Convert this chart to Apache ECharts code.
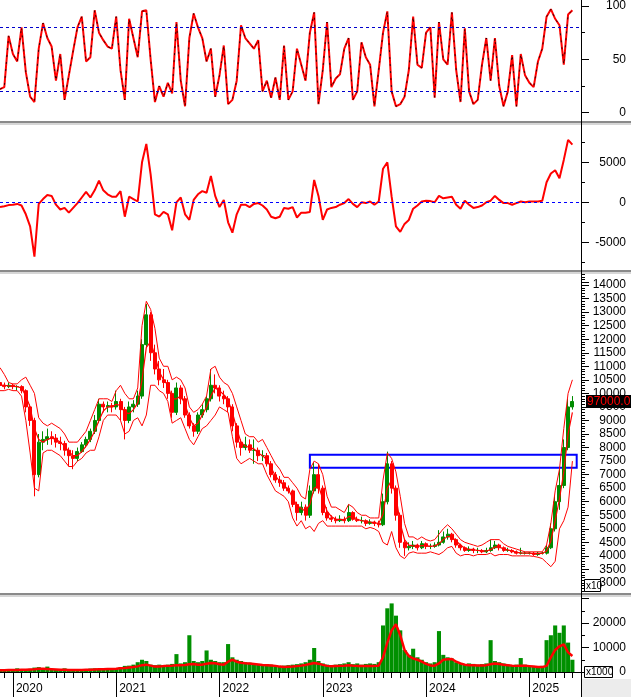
<!DOCTYPE html>
<html><head><meta charset="utf-8">
<script src="https://cdn.jsdelivr.net/npm/echarts@6/dist/echarts.min.js"></script>
<style>html,body{margin:0;padding:0;background:#fff}#c{width:631px;height:697px}</style>
</head><body><div id="c"></div>
<script>
// ---------- data (half-month steps, first point = 2019-11-16) ----------
const startYear = 2019, startMonth = 11, startHalf = 1, categoryCount = 136;

const stochK = [22,24,72,55,48,80,38,15,10,60,
84,70,62,30,55,12,35,58,80,90,
48,52,96,75,68,62,60,90,40,12,
88,70,52,95,96,50,10,25,15,28,
18,85,30,6,70,93,80,70,48,60,
15,35,63,8,12,30,82,70,65,60,
68,20,30,14,33,12,63,12,20,60,
45,30,75,94,8,40,85,24,32,36,
60,70,12,20,66,52,45,6,40,75,
95,20,6,8,15,40,90,45,42,75,
80,14,85,50,45,94,40,10,79,20,
8,12,45,70,30,70,25,6,20,54,
6,55,35,28,24,48,60,90,97,88,
82,45,92,96];

const macd = [-600,-500,-350,-300,-200,-400,-1500,-3000,-6800,-200,
400,900,800,-300,-900,-700,-1300,-700,-100,600,
1300,600,1500,2700,1500,1000,700,700,1400,-1800,
700,400,100,5000,7300,3500,-1500,-1800,-1200,-1500,
-3500,0,600,-1500,-2200,300,1000,1400,1200,3300,
800,-600,300,-2500,-3800,-1500,-300,-300,-600,-200,
-100,-400,-900,-1800,-2000,-1800,-700,-800,-600,-1900,
-1300,-1300,-1200,2800,800,-2200,-900,-700,-600,-300,
-100,400,-200,-600,0,-100,100,-300,100,4200,
5000,700,-3000,-3700,-2700,-2200,-800,-400,100,200,
150,0,800,500,600,700,-300,-800,200,-300,
-700,-600,-400,0,200,800,300,-100,-100,-300,
-100,100,0,100,100,100,200,2500,3600,4000,
3000,5300,7800,7200];

const priceOpen = [10400,10300,10250,10300,10250,10250,10100,9500,9000,7000,
8200,8300,8400,8350,8200,8150,7900,7700,7600,7850,
8100,8300,8600,9000,9600,9500,9550,9500,9700,9400,
9000,9500,9600,9900,11800,12900,11500,10900,10500,10400,
10000,9300,10200,9800,9200,8800,8600,9200,9400,9800,
10300,10200,9900,9800,9500,8800,8200,8000,8100,7900,
7900,7700,7700,7400,7000,6800,6700,6500,6400,5900,
5600,5800,5500,6400,7000,6500,5600,5400,5350,5300,
5350,5300,5600,5350,5300,5300,5200,5250,5200,5150,
6000,7400,6500,5500,4500,4300,4350,4400,4300,4450,
4350,4350,4400,4500,4700,4800,4600,4400,4300,4200,
4250,4200,4200,4150,4200,4300,4400,4300,4200,4200,
4150,4100,4100,4100,4100,4050,4100,4100,4300,5000,
6000,6600,8000,9500];

const priceHigh = [10500,10400,10400,10350,10300,10300,10150,9600,9100,8500,
8600,8700,8600,8500,8400,8250,8000,7900,8000,8200,
8400,8700,9200,9800,9700,9700,9650,10100,9800,9500,
9700,9750,10100,12000,13300,13000,11800,11200,10900,10500,
10100,10400,10300,9900,9300,8900,9300,9600,9900,10900,
10700,10300,10100,9900,9600,8900,8300,8400,8300,8300,
8000,7900,7800,7500,7100,6950,6800,6600,6450,6000,
6000,5900,6600,7450,7400,6600,5800,5500,5450,5500,
5450,5900,5650,5450,5450,5350,5350,5300,5300,6300,
7850,7500,6600,5600,4600,4500,4550,4450,4550,4500,
4450,4500,4950,4900,5000,4850,4650,4450,4350,4350,
4300,4300,4250,4300,4600,4550,4450,4350,4300,4250,
4200,4300,4150,4150,4150,4150,4150,4400,5200,6200,
7200,8300,9800,9900];

const priceLow = [10100,10150,10200,10150,10100,10000,9300,8800,6200,6900,
7900,8100,8100,8000,7900,7700,7300,7200,7500,7800,
8000,8200,8500,8900,9300,9300,9300,9400,9000,8300,
8900,9300,9500,9800,11700,11200,10700,10300,10200,9800,
9100,9200,9600,9100,8700,8400,8500,9100,9300,9700,
10000,9700,9600,9300,8600,8000,7700,7900,7800,7400,
7500,7500,7300,6900,6700,6550,6400,6300,5800,5300,
5500,5300,5400,6300,6300,5500,5300,5250,5200,5250,
5200,5250,5300,5250,5200,5100,5150,5100,5050,5100,
5900,6300,5300,4300,4000,4200,4250,4200,4250,4250,
4250,4300,4350,4450,4600,4500,4300,4200,4150,4150,
4100,4100,4100,4100,4150,4250,4200,4150,4150,4100,
4050,4050,4050,4050,4000,4000,4050,4050,4250,4900,
5700,6500,7900,9400];

const priceClose = [10300,10250,10300,10250,10250,10100,9500,9000,7000,8200,
8300,8400,8350,8200,8150,7900,7700,7600,7850,8100,
8300,8600,9000,9600,9500,9550,9500,9700,9400,9000,
9500,9600,9900,11800,12900,11500,10900,10500,10400,10000,
9300,10200,9800,9200,8800,8600,9200,9400,9800,10300,
10200,9900,9800,9500,8800,8200,8000,8100,7900,7900,
7700,7700,7400,7000,6800,6700,6500,6400,5900,5600,
5800,5500,6400,7000,6500,5600,5400,5350,5300,5350,
5300,5600,5350,5300,5300,5200,5250,5200,5150,6000,
7400,6500,5500,4500,4300,4350,4400,4300,4450,4350,
4350,4400,4500,4700,4800,4600,4400,4300,4200,4250,
4200,4200,4150,4200,4300,4400,4300,4200,4200,4150,
4100,4100,4100,4100,4050,4100,4100,4300,5000,6000,
6600,8000,9500,9700];

const bandUpper = [10950,10700,10400,10350,10350,10500,10600,10300,10000,9100,
8900,8800,8900,8800,8700,8500,8200,8200,8200,8400,
8600,9000,9400,9800,9800,9800,9700,10100,10300,10000,
9800,9800,10200,12500,13400,13100,12400,11300,11000,11000,
10500,10600,10500,10200,9500,9300,9400,9600,9900,10900,
11000,10600,10400,10300,10000,9500,9000,8500,8400,8400,
8200,8300,8000,7700,7400,7200,6900,6900,6700,6500,
6200,6100,7200,7500,7400,7000,6200,5800,5800,5700,
5600,5900,5800,5600,5500,5500,5400,5400,5400,6800,
7800,7600,7100,6200,5200,4700,4700,4600,4700,4600,
4550,4600,4800,5000,5150,5000,4800,4600,4500,4450,
4400,4350,4400,4500,4600,4600,4600,4450,4350,4300,
4250,4200,4150,4150,4150,4150,4150,4400,5200,6400,
7200,8700,10000,10500];

const bandMid = [10300,10300,10280,10270,10250,10200,9900,9500,8700,8300,
8200,8300,8350,8300,8200,8050,7850,7700,7700,7850,
8050,8300,8600,9000,9350,9500,9500,9600,9550,9300,
9250,9400,9650,10500,11700,11900,11400,10800,10500,10300,
9800,9800,9900,9600,9100,8800,8900,9200,9500,9900,
10200,10100,9950,9750,9300,8700,8200,8050,8000,7950,
7800,7700,7550,7250,6950,6750,6600,6450,6150,5850,
5750,5650,5900,6500,6600,6100,5650,5450,5350,5350,
5330,5450,5450,5350,5300,5270,5250,5220,5200,5550,
6500,6800,6200,5200,4600,4400,4370,4350,4380,4380,
4350,4370,4450,4600,4720,4700,4550,4400,4280,4240,
4220,4200,4180,4180,4230,4330,4330,4260,4220,4180,
4130,4110,4100,4100,4080,4080,4090,4180,4550,5300,
6100,7100,8500,9300];

const bandLower = [10100,10100,10150,10100,10100,9900,9000,7800,6500,6400,
7800,7900,7900,7800,7700,7500,7300,7300,7500,7600,
7800,7900,7900,8400,9000,9200,9200,9200,9000,8500,
8600,9000,9100,8800,9200,10300,10300,10100,10000,9700,
8900,9000,9100,8700,8300,8100,8400,8700,8800,9000,
9200,9500,9400,9300,8400,7600,7400,7500,7600,7500,
7400,7400,7000,6700,6400,6300,6200,6000,5400,5100,
5300,5000,5100,4900,5200,5300,5100,5100,5100,5100,
5100,5100,5100,5100,5100,5000,5050,5000,4900,4500,
4400,4900,4300,4000,3900,4100,4150,4100,4100,4100,
4150,4100,4050,4150,4300,4350,4100,4000,4050,4050,
4000,4050,4050,4050,4100,4000,4050,4050,4050,4000,
4000,4000,4000,4000,3980,3950,3900,3750,3600,3800,
5000,5300,5800,7500];

const volume = [800,900,1000,700,1500,1200,900,1300,1800,2000,
1400,2200,1100,1200,900,1500,800,700,1000,1200,
900,1400,1500,1300,1200,1400,1600,1500,2000,2500,
2600,3000,4000,5000,4500,3000,2800,3000,2800,3000,
3300,7300,3500,4000,15000,4500,4000,4500,8800,5000,
4500,4000,4000,11400,6000,5000,4500,4000,3800,3500,
3300,3000,3200,3000,2800,2500,2600,2800,3000,3200,
3500,4000,5000,9800,4500,3500,3000,2800,3000,3200,
3500,4000,3200,3500,3000,3300,3500,3300,4000,19000,
26000,28000,23000,17000,9000,7000,9500,6000,5000,4000,
3500,4000,16700,7000,6000,5500,4000,3500,3000,3500,
3300,3000,3200,3500,13000,4500,4000,3500,3000,2800,
3000,5700,3000,2500,2300,2200,2500,13000,15000,19000,
16000,19000,12000,5000];

const volumeMA = [700,700,800,800,850,900,900,1000,1100,1300,
1300,1200,1100,1000,900,900,850,800,800,850,
900,900,1000,1100,1100,1200,1200,1300,1500,1600,
1800,2000,2300,2800,3000,2600,2200,2200,2400,2500,
2600,2800,2800,2900,3200,3300,3000,3000,3400,3700,
3600,3200,3000,4200,5000,4200,3800,3600,3500,3300,
3100,2900,2800,2700,2500,2200,2000,2100,2200,2400,
2600,2900,3300,3700,3400,2900,2500,2300,2400,2500,
2600,2800,2600,2500,2500,2400,2500,2500,2600,6000,
12000,17000,19500,15000,9000,6500,5500,5000,4200,3300,
2700,2600,3500,5000,5200,5300,4200,3500,3000,2800,
2800,2700,2700,2800,3200,3500,3300,3000,2800,2600,
2500,2600,2600,2400,2200,2000,2000,2500,6000,9000,
10500,11300,8000,6500];

const stochLevels = [20, 80];
const stochTickLabels = [0, 50, 100];
const macdTickLabels = [-5000, 0, 5000];
const priceTickLabels = [3000,3500,4000,4500,5000,5500,6000,6500,7000,7500,8000,8500,9000,9500,10000,10500,11000,11500,12000,12500,13000,13500,14000];
const volumeTickLabels = [0, 10000, 20000];
const lastPriceValue = 9700;
const lastPriceText = '97000.0';
const zoneStartIndex = 72, zoneEndIndex = 134, zoneLow = 7250, zoneHigh = 7730;

// ---------- categories ----------
const cats = [];
{
  let y = startYear, m = startMonth, h = startHalf;
  for (let i = 0; i < categoryCount; i++) {
    cats.push(y + '-' + String(m).padStart(2, '0') + '-' + (h ? '16' : '01'));
    if (h) { h = 0; m++; if (m > 12) { m = 1; y++; } } else { h = 1; }
  }
}
const candleData = priceOpen.map((o, i) => [o, priceClose[i], priceLow[i], priceHigh[i]]);

const FONT = '"Liberation Sans", Arial, sans-serif';
const chart = echarts.init(document.getElementById('c'));

function yAx(gridIndex, min, max, interval, split, labels) {
  return {
    type: 'value', gridIndex, position: 'right', min, max, interval,
    splitLine: { show: false },
    axisLine: { show: true, lineStyle: { color: '#000', width: 1 } },
    axisTick: { show: true, length: 8, lineStyle: { color: '#000' } },
    minorTick: { show: true, splitNumber: split, length: 4, lineStyle: { color: '#000' } },
    axisLabel: { color: '#000', fontSize: 12, fontFamily: FONT, align: 'right', margin: 45,
      showMinLabel: true, showMaxLabel: true,
      formatter: v => labels.indexOf(v) >= 0 ? String(v) : '' }
  };
}
function hiddenX(gridIndex) {
  return { type: 'category', gridIndex, data: cats, boundaryGap: false, show: false };
}
const W = 581;
const option = {
  animation: false,
  textStyle: { fontFamily: FONT },
  grid: [
    { left: 0, width: W, top: 3.3, height: 109.4 },
    { left: 0, width: W, top: 122.3, height: 160 },
    { left: 0, width: W, top: 271.5, height: 325 },
    { left: 0, width: W, top: 598.5, height: 98 },
    { left: 0, width: W, top: 677, height: 1 }
  ],
  xAxis: [
    hiddenX(0), hiddenX(1), hiddenX(2),
    { type: 'category', gridIndex: 3, data: cats, boundaryGap: false, position: 'bottom', offset: -18.5,
      axisLine: { show: true, lineStyle: { color: '#000' } },
      axisTick: { show: true, length: 6, interval: (i, v) => v.endsWith('-01'), lineStyle: { color: '#000' } },
      axisLabel: { show: false }, splitLine: { show: false } },
    { type: 'category', gridIndex: 4, data: cats, boundaryGap: false, position: 'bottom',
      axisLine: { show: false },
      axisTick: { show: true, length: 19, interval: (i, v) => v.endsWith('-01-01'), lineStyle: { color: '#000' } },
      axisLabel: { show: true, interval: (i, v) => v.endsWith('-01-01'), formatter: v => v.slice(0, 4),
        align: 'left', margin: 5, padding: [0, 0, 0, 3], color: '#000', fontSize: 12, fontFamily: FONT },
      splitLine: { show: false } }
  ],
  yAxis: [
    yAx(0, 0, 100, 50, 2, stochTickLabels),
    yAx(1, -10000, 10000, 5000, 2, macdTickLabels),
    yAx(2, 2500, 14500, 500, 5, priceTickLabels),
    yAx(3, -10000, 30000, 10000, 2, volumeTickLabels),
    { type: 'value', gridIndex: 4, show: false }
  ],
  series: [
    { type: 'line', xAxisIndex: 0, yAxisIndex: 0, data: stochK, showSymbol: false,
      lineStyle: { color: '#ff0000', width: 2 },
      markLine: { silent: true, symbol: ['none', 'none'], label: { show: false },
        lineStyle: { color: '#0000cc', type: [3, 3], width: 1 },
        data: stochLevels.map(v => ({ yAxis: v })) } },
    { type: 'line', xAxisIndex: 0, yAxisIndex: 0, data: stochK, showSymbol: false, z: 3,
      lineStyle: { color: '#000', width: 0.8, type: [2, 5] } },
    { type: 'line', xAxisIndex: 1, yAxisIndex: 1, data: macd, showSymbol: false,
      lineStyle: { color: '#ff0000', width: 2 },
      markLine: { silent: true, symbol: ['none', 'none'], label: { show: false },
        lineStyle: { color: '#0000ff', type: [3, 3], width: 1 }, data: [{ yAxis: 0 }] } },
    { type: 'line', xAxisIndex: 2, yAxisIndex: 2, data: bandUpper, showSymbol: false,
      lineStyle: { color: '#ff0000', width: 1 } },
    { type: 'line', xAxisIndex: 2, yAxisIndex: 2, data: bandLower, showSymbol: false,
      lineStyle: { color: '#ff0000', width: 1 } },
    { type: 'candlestick', xAxisIndex: 2, yAxisIndex: 2, data: candleData, barWidth: 3.5,
      itemStyle: { color: '#008c00', color0: '#ff0000', borderColor: '#008c00', borderColor0: '#ff0000', borderWidth: 1 },
      markLine: { silent: true, symbol: ['none', 'none'],
        lineStyle: { color: 'transparent', width: 0 },
        label: { show: true, position: 'end', distance: 5, formatter: lastPriceText, color: '#ff0000',
          backgroundColor: '#000', padding: [1, 1, 0, 1], fontSize: 12, fontFamily: FONT },
        data: [{ yAxis: lastPriceValue }] },
      markArea: { silent: true,
        itemStyle: { color: 'rgba(0,0,0,0)', borderColor: '#0000ff', borderWidth: 2 },
        data: [[{ xAxis: cats[zoneStartIndex], yAxis: zoneHigh }, { xAxis: cats[zoneEndIndex], yAxis: zoneLow }]] } },
    { type: 'line', xAxisIndex: 2, yAxisIndex: 2, data: bandMid, showSymbol: false,
      lineStyle: { color: '#ff0000', width: 1.2 } },
    { type: 'bar', xAxisIndex: 3, yAxisIndex: 3, data: volume, barCategoryGap: '5%',
      itemStyle: { color: '#009000' } },
    { type: 'line', xAxisIndex: 3, yAxisIndex: 3, data: volumeMA, showSymbol: false,
      lineStyle: { color: '#ff0000', width: 2.5 } }
  ],
  graphic: [
    { type: 'rect', shape: { x: 0, y: 121, width: 631, height: 4 }, style: { fill: '#d6d6d6' }, z: 50 },
    { type: 'line', shape: { x1: 0, y1: 122, x2: 631, y2: 122 }, style: { stroke: '#707070', lineWidth: 1.5 }, z: 51 },
    { type: 'rect', shape: { x: 0, y: 270, width: 631, height: 4 }, style: { fill: '#d6d6d6' }, z: 50 },
    { type: 'line', shape: { x1: 0, y1: 271, x2: 631, y2: 271 }, style: { stroke: '#707070', lineWidth: 1.5 }, z: 51 },
    { type: 'rect', shape: { x: 0, y: 593, width: 631, height: 4 }, style: { fill: '#d6d6d6' }, z: 50 },
    { type: 'line', shape: { x1: 0, y1: 594, x2: 631, y2: 594 }, style: { stroke: '#707070', lineWidth: 1.5 }, z: 51 },
    { type: 'rect', shape: { x: 582, y: 679, width: 49, height: 18 }, style: { fill: '#ececec' }, z: 50 },
    { type: 'line', shape: { x1: 581.5, y1: 0, x2: 581.5, y2: 697 }, style: { stroke: '#000', lineWidth: 1 }, z: 52 },
    { type: 'rect', shape: { x: 584.5, y: 579.5, width: 16, height: 12 }, style: { fill: '#fff', stroke: '#000', lineWidth: 1 }, z: 60 },
    { type: 'text', x: 586, y: 581, style: { text: 'x10', fontSize: 10, fontFamily: FONT, fill: '#000' }, z: 61 },
    { type: 'rect', shape: { x: 584.5, y: 666.5, width: 28, height: 11 }, style: { fill: '#fff', stroke: '#000', lineWidth: 1 }, z: 60 },
    { type: 'text', x: 586, y: 667.5, style: { text: 'x1000', fontSize: 10, fontFamily: FONT, fill: '#000' }, z: 61 }
  ]
};
chart.setOption(option);
</script></body></html>
